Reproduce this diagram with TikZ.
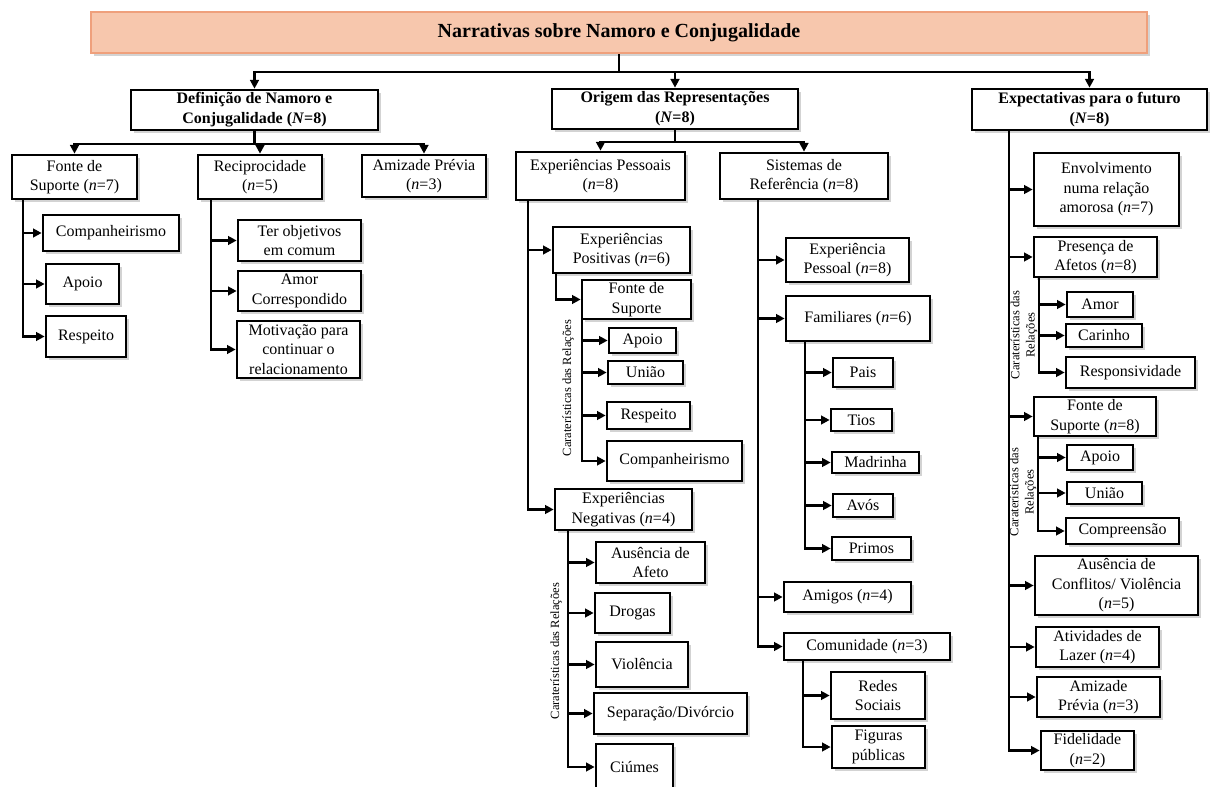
\documentclass[tikz,border=0pt]{standalone}
\usepackage{fontspec}
\setmainfont{Liberation Serif}
\usetikzlibrary{arrows.meta,shadows}

\definecolor{titlefill}{HTML}{F7C7AD}
\definecolor{titleline}{HTML}{EFA07C}

\tikzset{
  wh/.style 2 args={minimum width=#1*0.75pt, minimum height=#2*0.75pt},
  box/.style={draw=black, line width=2pt, fill=white, align=center, inner sep=0pt,
    drop shadow={shadow xshift=2pt, shadow yshift=-2pt, opacity=0.35},
    font=\fontsize{12}{14.6}\selectfont},
  headbox/.style={box, font=\fontsize{12}{15}\selectfont\bfseries},
  titlebox/.style={draw=titleline, fill=titlefill, line width=1.8pt, inner sep=0pt,
    drop shadow={shadow xshift=2pt, shadow yshift=-2pt, opacity=0.35},
    font=\fontsize{15}{18}\selectfont\bfseries},
  arr/.style={line width=1.7pt, -{Triangle[length=6.5pt,width=6.5pt]}},
  sidelabel/.style={rotate=90, align=center, inner sep=0pt,
    font=\fontsize{9.4}{11.5}\selectfont}
}

\begin{document}
\begin{tikzpicture}[x=0.75pt, y=-0.75pt]

    \useasboundingbox (0,0) rectangle (1210,787);
    \clip (0,0) rectangle (1210,787);

    % title and main themes
    \node[titlebox, wh={1056}{41}] (title) at (619,32.5) {Narrativas sobre Namoro e Conjugalidade};
    \node[headbox, wh={247}{40}] (defin) at (254.5,110) {Definição de Namoro e\\Conjugalidade (\textit{N}=8)};
    \node[headbox, wh={246}{40}] (origem) at (675,109) {Origem das Representações\\(\textit{N}=8)};
    \node[headbox, wh={235}{41}] (expect) at (1089.5,109.5) {Expectativas para o futuro\\(\textit{N}=8)};

    % definicao
    \node[box, wh={125}{44}] (fonteA) at (74.5,177) {Fonte de\\Suporte (\textit{n}=7)};
    \node[box, wh={124}{44}] (recip) at (260,177) {Reciprocidade\\(\textit{n}=5)};
    \node[box, wh={124}{42}] (amizA) at (424,176) {Amizade Prévia\\(\textit{n}=3)};
    \node[box, wh={136}{36}] (compA) at (111,233) {Companheirismo};
    \node[box, wh={73}{40}] (apoioA) at (82.5,284) {Apoio};
    \node[box, wh={80}{41}] (respA) at (86,336.5) {Respeito};
    \node[box, wh={123}{41}] (objet) at (299.5,240.5) {Ter objetivos\\em comum};
    \node[box, wh={123}{40}] (amorC) at (299.5,291) {Amor\\Correspondido};
    \node[box, wh={123}{57}] (motiv) at (298.5,349.5) {Motivação para\\continuar o\\relacionamento};

    % origem - experiencias pessoais
    \node[box, wh={169}{48}] (pessoais) at (600.5,176) {Experiências Pessoais\\(\textit{n}=8)};
    \node[box, wh={137}{46}] (positivas) at (621.5,250) {Experiências\\Positivas (\textit{n}=6)};
    \node[box, wh={109}{39}] (fonteB) at (636.5,299.5) {Fonte de\\Suporte};
    \node[box, wh={67}{25}] (apoioB) at (642.5,340.5) {Apoio};
    \node[box, wh={75}{23}] (uniaoB) at (645.5,372.5) {União};
    \node[box, wh={83}{27}] (respB) at (648.5,415.5) {Respeito};
    \node[box, wh={135}{40}] (compB) at (674.5,461) {Companheirismo};
    \node[box, wh={137}{41}] (negativas) at (623.5,509.5) {Experiências\\Negativas (\textit{n}=4)};
    \node[box, wh={109}{41}] (ausAfeto) at (650.5,562.5) {Ausência de\\Afeto};
    \node[box, wh={75}{40}] (drogas) at (632.5,613) {Drogas};
    \node[box, wh={92}{45}] (violencia) at (642,664.5) {Violência};
    \node[box, wh={153}{41}] (separacao) at (670.5,713.5) {Separação/Divórcio};
    \node[box, wh={77}{46}] (ciumes) at (634.5,767) {Ciúmes};
    \node[sidelabel] (lblPos) at (568,388) {Caraterísticas das Relações};
    \node[sidelabel] (lblNeg) at (556,651) {Caraterísticas das Relações};

    % origem - sistemas de referencia
    \node[box, wh={168}{46}] (sistemas) at (804,176) {Sistemas de\\Referência (\textit{n}=8)};
    \node[box, wh={123}{44}] (expPessoal) at (847.5,260) {Experiência\\Pessoal (\textit{n}=8)};
    \node[box, wh={144}{45}] (familiares) at (858,318.5) {Familiares (\textit{n}=6)};
    \node[box, wh={60}{29}] (pais) at (863,372.5) {Pais};
    \node[box, wh={61}{22}] (tios) at (861.5,420) {Tios};
    \node[box, wh={87}{21}] (madrinha) at (875.5,462.5) {Madrinha};
    \node[box, wh={60}{23}] (avos) at (863,505.5) {Avós};
    \node[box, wh={79}{23}] (primos) at (871.5,548.5) {Primos};
    \node[box, wh={127}{30}] (amigos) at (847.5,597) {Amigos (\textit{n}=4)};
    \node[box, wh={166}{27}] (comunidade) at (867,646.5) {Comunidade (\textit{n}=3)};
    \node[box, wh={94}{47}] (redes) at (878,695.5) {Redes\\Sociais};
    \node[box, wh={93}{42}] (figuras) at (878.5,747) {Figuras\\públicas};

    % expectativas
    \node[box, wh={145}{73}] (envolv) at (1106.5,189.5) {Envolvimento\\numa relação\\amorosa (\textit{n}=7)};
    \node[box, wh={123}{40}] (presenca) at (1095.5,257) {Presença de\\Afetos (\textit{n}=8)};
    \node[box, wh={66}{25}] (amor) at (1100,304.5) {Amor};
    \node[box, wh={76}{23}] (carinho) at (1104,335.5) {Carinho};
    \node[box, wh={129}{31}] (respons) at (1130.5,372.5) {Responsividade};
    \node[box, wh={122}{39}] (fonteC) at (1095,416.5) {Fonte de\\Suporte (\textit{n}=8)};
    \node[box, wh={66}{25}] (apoioC) at (1100,457.5) {Apoio};
    \node[box, wh={75}{22}] (uniaoC) at (1104.5,493) {União};
    \node[box, wh={113}{26}] (compre) at (1122.5,531) {Compreensão};
    \node[box, wh={163}{59}] (ausConf) at (1116.5,585.5) {Ausência de\\Conflitos/ Violência\\(\textit{n}=5)};
    \node[box, wh={123}{40}] (lazer) at (1097.5,647) {Atividades de\\Lazer (\textit{n}=4)};
    \node[box, wh={123}{40}] (amizC) at (1098.5,697) {Amizade\\Prévia (\textit{n}=3)};
    \node[box, wh={93}{39}] (fidel) at (1087.5,750.5) {Fidelidade\\(\textit{n}=2)};
    \node[sidelabel] (lblAfetos) at (1024,335) {Caraterísticas das\\Relações};
    \node[sidelabel] (lblSuporte) at (1023,492) {Caraterísticas das\\Relações};

    % connectors from the top
    \foreach \c in {defin,origem,expect}
        \draw[arr] (title.south) -- ++(0,18) -| (\c.north);
    \foreach \c in {fonteA,recip,amizA}
        \draw[arr] (defin.south) -- ++(0,13) -| (\c.north);
    \foreach \c in {pessoais,sistemas}
        \draw[arr] (origem.south) -- ++(0,12) -| (\c.north);

    % connectors to the sub-categories
    \foreach \c in {compA,apoioA,respA}
        \draw[arr] (fonteA.south west) ++(12,0) |- (\c.west);
    \foreach \c in {objet,amorC,motiv}
        \draw[arr] (recip.south west) ++(14,0) |- (\c.west);
    \foreach \c in {positivas,negativas}
        \draw[arr] (pessoais.south west) ++(13,0) |- (\c.west);
    \draw[arr] (positivas.south west) ++(4,0) |- (fonteB.west);
    \foreach \c in {apoioB,uniaoB,respB,compB}
        \draw[arr] (fonteB.south west) ++(1,0) |- (\c.west);
    \foreach \c in {ausAfeto,drogas,violencia,separacao,ciumes}
        \draw[arr] (negativas.south west) ++(14,0) |- (\c.west);
    \foreach \c in {expPessoal,familiares,amigos,comunidade}
        \draw[arr] (sistemas.south west) ++(39,0) |- (\c.west);
    \foreach \c in {pais,tios,madrinha,avos,primos}
        \draw[arr] (familiares.south west) ++(20,0) |- (\c.west);
    \foreach \c in {redes,figuras}
        \draw[arr] (comunidade.south west) ++(20,0) |- (\c.west);
    \foreach \c in {envolv,presenca,fonteC,ausConf,lazer,amizC,fidel}
        \draw[arr] (expect.south west) ++(38,0) |- (\c.west);
    \foreach \c in {amor,carinho,respons}
        \draw[arr] (presenca.south west) ++(6,0) |- (\c.west);
    \foreach \c in {apoioC,uniaoC,compre}
        \draw[arr] (fonteC.south west) ++(5,0) |- (\c.west);

\end{tikzpicture}
\end{document}
